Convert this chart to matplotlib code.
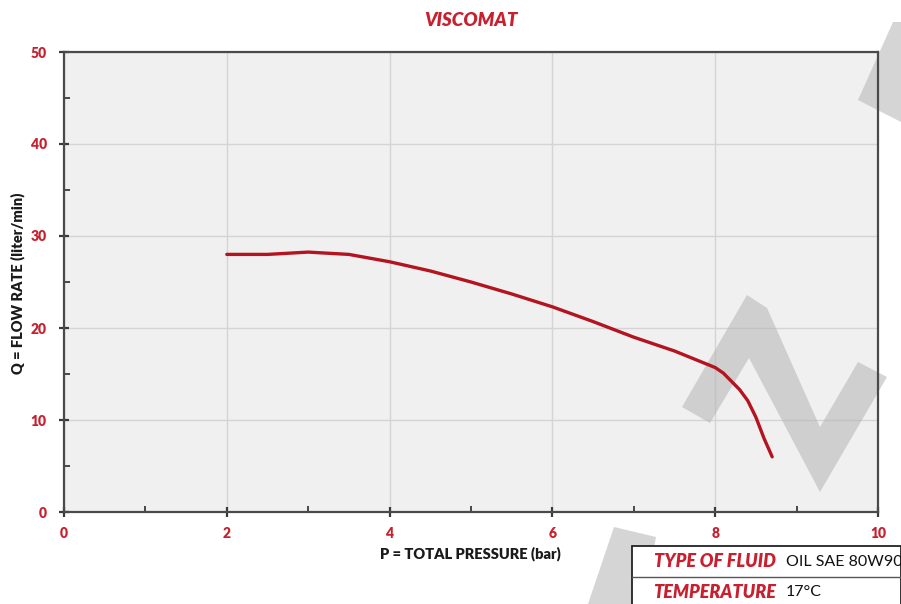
import matplotlib
matplotlib.use("Agg")
import matplotlib.pyplot as plt
from matplotlib.patches import Polygon
from matplotlib.ticker import MultipleLocator

# ---- data ----
pressure_bar = [2.0, 2.5, 3.0, 3.5, 4.0, 4.5, 5.0, 5.5, 6.0, 6.5, 7.0, 7.5, 8.0, 8.1, 8.2, 8.3, 8.4, 8.5, 8.6, 8.7]
flow_lpm     = [28.0, 28.0, 28.25, 28.0, 27.2, 26.2, 25.0, 23.7, 22.3, 20.7, 19.0, 17.5, 15.7, 15.1, 14.2, 13.3, 12.1, 10.3, 8.0, 6.0]
x_ticks = [0, 2, 4, 6, 8, 10]
y_ticks = [0, 10, 20, 30, 40, 50]
title = "VISCOMAT"
x_label = "P = TOTAL PRESSURE (bar)"
y_label = "Q = FLOW RATE (liter/min)"
table_rows = [("TYPE OF FLUID", "OIL SAE 80W90"), ("TEMPERATURE", "17°C")]

RED = "#c8202f"
W, H = 901, 604
fig = plt.figure(figsize=(W / 100, H / 100), dpi=100)
plt.rcParams['font.family'] = ['Lato', 'DejaVu Sans']

def fx(px):
    return px / W

def fy(py):
    return 1 - py / H

ax = fig.add_axes([fx(64), fy(512), fx(878) - fx(64), fy(52) - fy(512)])
ax.set_facecolor("#f0f0f0")
ax.set_xlim(0, 10)
ax.set_ylim(0, 50)
ax.set_xticks(x_ticks)
ax.set_yticks(y_ticks)
ax.xaxis.set_minor_locator(MultipleLocator(1))
ax.yaxis.set_minor_locator(MultipleLocator(5))
ax.grid(True, which="major", color="#d4d4d4", linewidth=1.0)
ax.set_axisbelow(True)
for s in ax.spines.values():
    s.set_color("#4a4a4a")
    s.set_linewidth(1.6)
    s.set_zorder(4)
ax.tick_params(which="major", direction="inout", length=7, width=1.6, color="#3a3a3a",
               labelcolor=RED, labelsize=10, pad=9)
ax.tick_params(which="minor", direction="in", length=4, width=1.3, color="#3a3a3a")
ax.tick_params(axis="x", which="major", pad=7)
for lab in ax.get_xticklabels() + ax.get_yticklabels():
    lab.set_fontweight("heavy")

ax.plot(pressure_bar, flow_lpm, color="#b3141f", linewidth=2.4, solid_capstyle="round", zorder=5)

# watermark decoration (figure coordinates, drawn between background and curve)
wm = dict(transform=fig.transFigure, facecolor="#b4b4b4", edgecolor="none", alpha=0.55,
          zorder=3, clip_on=False)
zig = [(682, 407), (747, 295), (767, 308), (820, 427), (858, 362), (887, 377),
       (820, 492), (749, 358), (710, 423)]
ax.add_artist(Polygon([(fx(a), fy(b)) for a, b in zig], **wm))
top = [(858, 100), (893, 22), (901, 22), (901, 122)]
ax.add_artist(Polygon([(fx(a), fy(b)) for a, b in top], **wm))
bot = [(588, 604), (614, 527), (656, 537), (644, 604)]
ax.add_artist(Polygon([(fx(a), fy(b)) for a, b in bot], **wm))

# titles / labels
fig.text(fx(471), fy(20), title, color=RED, fontsize=13.5, fontweight="heavy",
         fontstyle="italic", ha="center", va="center")
fig.text(fx(470), fy(554), x_label, color="#1a1a1a", fontsize=10.5, fontweight="heavy",
         ha="center", va="center")
fig.text(fx(18), fy(283), y_label, color="#1a1a1a", fontsize=10.5, fontweight="heavy",
         ha="center", va="center", rotation=90)

# info table
tx0, ty0, ty1, ty2 = 632, 546, 577, 604
fig.patches.append(Polygon([(fx(tx0), fy(ty2)), (fx(tx0), fy(ty0)), (fx(W), fy(ty0)), (fx(W), fy(ty2))],
                           closed=False, transform=fig.transFigure, facecolor="white",
                           edgecolor="#222222", linewidth=1.3, zorder=6))
fig.lines.append(plt.Line2D([fx(tx0), fx(W)], [fy(ty1), fy(ty1)], transform=fig.transFigure,
                            color="#555555", linewidth=1.0, zorder=7))
for (k, v), yc in zip(table_rows, [(ty0 + ty1) / 2, (ty1 + ty2) / 2 + 2]):
    fig.text(fx(776), fy(yc), k, color=RED, fontsize=13, fontweight="heavy", fontstyle="italic",
             ha="right", va="center", zorder=8)
    fig.text(fx(786), fy(yc), v, color="#111111", fontsize=11.5, ha="left", va="center", zorder=8)

fig.savefig("out.png", dpi=100)
